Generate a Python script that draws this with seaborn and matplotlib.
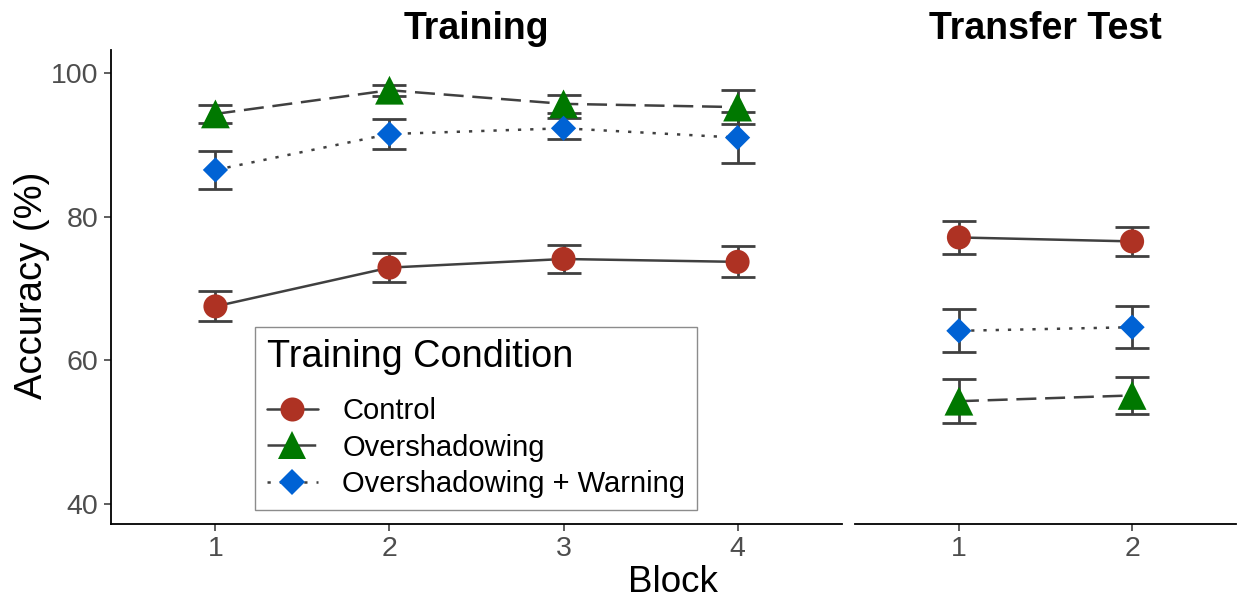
import numpy as np
import pandas as pd
import matplotlib
matplotlib.use("Agg")
import matplotlib.pyplot as plt
import seaborn as sns
from matplotlib.lines import Line2D

# ---------------- data ----------------
conditions = ["Control", "Overshadowing", "Overshadowing + Warning"]

train_blocks = [1, 2, 3, 4]
train_control = [67.5, 72.9, 74.1, 73.7]
train_control_se = [2.1, 2.05, 1.95, 2.15]
train_oversh = [94.3, 97.6, 95.7, 95.25]
train_oversh_se = [1.2, 0.75, 1.3, 2.35]
train_warning = [86.5, 91.5, 92.3, 91.0]
train_warning_se = [2.65, 2.1, 1.5, 3.6]

test_blocks = [1, 2]
test_control = [77.1, 76.55]
test_control_se = [2.3, 2.0]
test_oversh = [54.3, 55.1]
test_oversh_se = [3.1, 2.6]
test_warning = [64.1, 64.6]
test_warning_se = [3.0, 2.9]

y_ticks = [40, 60, 80, 100]

# ---------------- style ----------------
sns.set_theme(style="white")
plt.rcParams["font.family"] = ["Liberation Sans", "DejaVu Sans"]
plt.rcParams["text.color"] = "black"
plt.rcParams["axes.labelcolor"] = "black"

palette = {"Control": "#AE3223", "Overshadowing": "#007800",
           "Overshadowing + Warning": "#0062D4"}
markers = {"Control": "o", "Overshadowing": "^", "Overshadowing + Warning": "D"}
sizes = {"Control": 300, "Overshadowing": 430, "Overshadowing + Warning": 165}
dashes = {"Control": "", "Overshadowing": (8.0, 3.5),
          "Overshadowing + Warning": (1.3, 3.6)}
line_col = "#404040"
LW = 1.8


def make_df(blocks, c, o, w, cse, ose, wse):
    rows = []
    for cond, m, s in zip(conditions, [c, o, w], [cse, ose, wse]):
        for b, mv, sv in zip(blocks, m, s):
            rows.append({"Block": b, "Accuracy": mv, "SE": sv, "Condition": cond})
    return pd.DataFrame(rows)


df_train = make_df(train_blocks, train_control, train_oversh, train_warning,
                   train_control_se, train_oversh_se, train_warning_se)
df_test = make_df(test_blocks, test_control, test_oversh, test_warning,
                  test_control_se, test_oversh_se, test_warning_se)

W, H = 1238, 600
fig = plt.figure(figsize=(W / 100, H / 100), dpi=100)
ax1 = fig.add_axes([111 / W, 76 / H, 731 / W, 474 / H])
ax2 = fig.add_axes([855 / W, 76 / H, 381 / W, 474 / H], sharey=ax1)


def draw(ax, df):
    for cond in conditions:
        sub = df[df["Condition"] == cond]
        ax.errorbar(sub["Block"], sub["Accuracy"], yerr=sub["SE"], fmt="none",
                    ecolor=line_col, elinewidth=2.0, capsize=12.2, capthick=2.0,
                    zorder=2)
    sns.lineplot(data=df, x="Block", y="Accuracy", style="Condition",
                 style_order=conditions, dashes=dashes, color=line_col,
                 linewidth=LW, legend=False, ax=ax, estimator=None, zorder=3)
    sns.scatterplot(data=df, x="Block", y="Accuracy", hue="Condition",
                    style="Condition", size="Condition", hue_order=conditions,
                    style_order=conditions, size_order=conditions,
                    palette=palette, markers=markers, sizes=sizes,
                    linewidth=0, legend=False, ax=ax, zorder=4)


draw(ax1, df_train)
draw(ax2, df_test)

ax1.set_xlim(0.4, 4.6)
ax2.set_xlim(0.4, 2.6)
ax1.set_ylim(37.2, 103.2)
ax1.set_xticks(train_blocks)
ax2.set_xticks(test_blocks)
ax1.set_yticks(y_ticks)

for ax in (ax1, ax2):
    ax.set_xlabel("")
    ax.set_ylabel("")
    ax.tick_params(axis="both", length=5, width=1.1, color="#333333",
                   labelsize=20.5, labelcolor="#4D4D4D", pad=4, bottom=True, left=True)
    for s in ["top", "right"]:
        ax.spines[s].set_visible(False)
    ax.spines["bottom"].set_color("black")
    ax.spines["bottom"].set_linewidth(1.3)
ax1.spines["left"].set_color("black")
ax1.spines["left"].set_linewidth(1.3)
ax2.spines["left"].set_visible(False)
ax2.tick_params(axis="y", left=False, labelleft=False)

ax1.set_title("Training", fontweight="bold", fontsize=27, pad=8, color="black")
ax2.set_title("Transfer Test", fontweight="bold", fontsize=27, pad=8, color="black")

fig.text(673 / W, 1 - 583 / H, "Block", ha="center", va="center", fontsize=26.5)
fig.text(32 / W, 1 - 285 / H, "Accuracy (%)", ha="center", va="center",
         rotation=90, fontsize=27.5)

handles = []
for cond in conditions:
    ls_kw = {"linestyle": "-"} if dashes[cond] == "" else {"dashes": dashes[cond]}
    handles.append(Line2D([], [], color=line_col, lw=LW, marker=markers[cond],
                          markersize=np.sqrt(sizes[cond]),
                          markerfacecolor=palette[cond], markeredgewidth=0,
                          **ls_kw))
leg = ax1.legend(handles, conditions, title="Training Condition",
                 loc="lower left", bbox_to_anchor=(255 / W, 1 - 510 / H),
                 bbox_transform=fig.transFigure, borderaxespad=0,
                 fontsize=21, title_fontsize=27.3, frameon=True, fancybox=False,
                 edgecolor="#8c8c8c", framealpha=1, alignment="left",
                 handlelength=1.75, handletextpad=0.85, labelspacing=0.3,
                 borderpad=0.4)
leg.get_frame().set_linewidth(1.0)
leg._legend_box.sep = 16

fig.savefig("out.png", dpi=100)
